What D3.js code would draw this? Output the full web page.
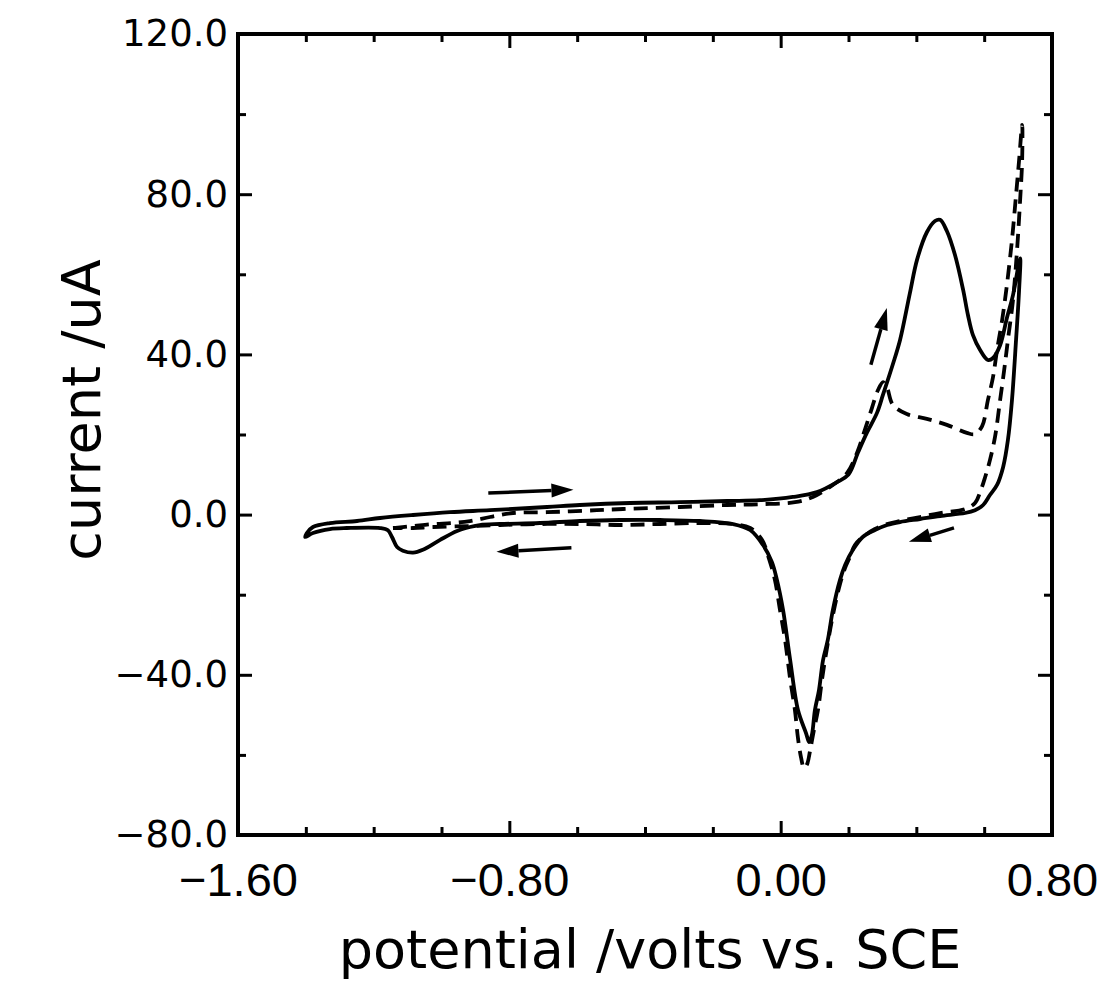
<!DOCTYPE html>
<html lang='en'>
<head>
<meta charset='utf-8'>
<script src='https://cdnjs.cloudflare.com/ajax/libs/d3/7.8.5/d3.min.js'></script>
<title>Cyclic voltammogram</title>
<style>
body {
   margin:0;
   background:white;
   overflow:hidden;
}
.tick text {
   fill:black;
}
</style>
</head>
<body>
<script>
// solid scan: [potential V, current uA], forward then reverse
var solidForward = [
   [-1.397, -4.6], [-1.379, -3.1], [-1.329, -2.1], [-1.249, -1.6], [-1.181, -0.85],
   [-1.084, -0.1], [-0.975, 0.6], [-0.857, 1.1], [-0.689, 1.9], [-0.592, 2.4],
   [-0.444, 2.9], [-0.297, 3.1], [-0.158, 3.4], [-0.061, 3.6], [0.036, 4.4],
   [0.107, 5.6], [0.166, 8.1], [0.200, 10.0], [0.228, 15.5], [0.254, 20.4],
   [0.284, 25.4], [0.302, 30.0], [0.331, 37.6], [0.352, 43.6], [0.381, 55.3],
   [0.402, 63.6], [0.431, 70.5], [0.455, 73.3], [0.470, 73.6], [0.490, 70.8],
   [0.514, 64.8], [0.538, 56.1], [0.552, 49.9], [0.567, 44.8], [0.588, 41.1],
   [0.611, 38.6], [0.626, 39.1], [0.647, 42.3], [0.667, 49.1], [0.685, 54.8],
   [0.706, 64.0]
];
var solidReverse = [
   [0.703, 56.1], [0.694, 43.6], [0.682, 28.6], [0.670, 18.6], [0.656, 11.9],
   [0.638, 7.4], [0.617, 4.9], [0.597, 2.4], [0.573, 1.1], [0.544, 0.4],
   [0.470, -0.35], [0.411, -1.1], [0.352, -1.85], [0.314, -2.6], [0.278, -3.85],
   [0.242, -5.6], [0.213, -8.8], [0.190, -12.6], [0.175, -16.3], [0.154, -23.8],
   [0.139, -31.3], [0.125, -36.3], [0.113, -43.8], [0.101, -48.8], [0.092, -55.0],
   [0.084, -56.8], [0.075, -54.6], [0.051, -48.8], [0.028, -36.3], [0.007, -23.8],
   [-0.011, -16.3], [-0.026, -11.8], [-0.052, -7.6], [-0.090, -3.85], [-0.141, -2.35],
   [-0.238, -1.6], [-0.356, -1.35], [-0.474, -1.35], [-0.592, -1.6], [-0.710, -2.1],
   [-0.828, -2.35], [-0.887, -2.6], [-0.916, -3.1], [-0.954, -4.1], [-1.004, -6.3],
   [-1.055, -8.8], [-1.084, -9.5], [-1.114, -9.0], [-1.131, -8.1], [-1.146, -5.6],
   [-1.158, -3.9], [-1.181, -3.35], [-1.279, -3.35], [-1.329, -3.6], [-1.379, -4.6],
   [-1.402, -5.6]
];
// dashed scan
var dashForward = [
   [-1.143, -3.35], [-1.084, -2.85], [-1.025, -2.35], [-0.966, -2.1], [-0.916, -1.6],
   [-0.857, -0.6], [-0.789, 0.4], [-0.689, 0.6], [-0.542, 1.1], [-0.465, 1.4],
   [-0.297, 1.9], [-0.158, 2.4], [-0.061, 2.6], [0.042, 3.1], [0.095, 4.4],
   [0.154, 7.4], [0.196, 10.4], [0.225, 15.4], [0.248, 21.1], [0.269, 26.6],
   [0.287, 31.1], [0.302, 33.1], [0.314, 31.6], [0.331, 27.4], [0.372, 25.1],
   [0.431, 23.9], [0.490, 22.4], [0.549, 20.4], [0.573, 20.1], [0.594, 22.1],
   [0.611, 28.6], [0.626, 34.3], [0.638, 41.1], [0.653, 48.6], [0.667, 57.3],
   [0.682, 68.6], [0.694, 79.8], [0.703, 88.5], [0.712, 97.3]
];
var dashReverse = [
   [0.712, 88.5], [0.706, 78.5], [0.697, 66.1], [0.685, 53.6], [0.670, 43.6],
   [0.659, 36.1], [0.647, 28.6], [0.632, 19.4], [0.617, 13.6], [0.603, 9.4],
   [0.588, 5.6], [0.573, 2.9], [0.544, 1.4], [0.470, 0.4], [0.411, -0.6],
   [0.352, -1.6], [0.314, -2.35], [0.278, -3.6], [0.242, -5.6], [0.219, -7.6],
   [0.204, -10.6], [0.190, -13.3], [0.175, -17.3], [0.154, -25.1], [0.136, -33.6],
   [0.122, -41.1], [0.110, -48.8], [0.098, -53.8], [0.087, -58.8], [0.078, -62.3],
   [0.069, -63.3], [0.060, -60.6], [0.051, -55.8], [0.042, -48.8], [0.028, -41.1],
   [0.013, -31.3], [-0.002, -23.8], [-0.017, -16.3], [-0.034, -11.1], [-0.055, -6.3],
   [-0.090, -3.35], [-0.141, -2.35], [-0.238, -2.1], [-0.356, -2.35], [-0.474, -2.6],
   [-0.592, -2.35], [-0.710, -2.35], [-0.828, -2.6], [-0.916, -2.85], [-1.025, -3.1],
   [-1.084, -3.35], [-1.143, -3.35]
];
// scan direction arrows: tail -> head
var arrows = [
   {x1: 0.266, y1: 37.4, x2: 0.313, y2: 51.6},
   {x1: -0.862, y1: 5.4, x2: -0.611, y2: 6.2},
   {x1: -0.617, y1: -8.3, x2: -0.838, y2: -9.3},
   {x1: 0.511, y1: -3.3, x2: 0.378, y2: -6.8}
];
var xMajor = [-1.6, -0.8, 0, 0.8];
var xMinor = [-1.4, -1.2, -1.0, -0.6, -0.4, -0.2, 0.2, 0.4, 0.6];
var yMajor = [-80, -40, 0, 40, 80, 120];
var yMinor = [-60, -20, 20, 60, 100];

var W = 1097, H = 988;
var mL = 238, mR = 1052, mT = 34, mB = 835;

var svg = d3.select('body').append('svg')
            .attr('width', W).attr('height', H);

var x = d3.scaleLinear().domain([-1.6, 0.8]).range([mL, mR]);
var y = d3.scaleLinear().domain([-80, 120]).range([mB, mT]);

function axisStyle(g) {
   g.select('.domain').remove();
   g.selectAll('.tick line').attr('stroke', 'black').attr('stroke-width', 3);
}
// minor ticks, all four sides, pointing inward
svg.append('g').attr('transform', 'translate(0,' + mB + ')')
   .call(d3.axisBottom(x).tickValues(xMinor).tickSize(-8).tickFormat('')).call(axisStyle);
svg.append('g').attr('transform', 'translate(0,' + mT + ')')
   .call(d3.axisTop(x).tickValues(xMinor).tickSize(-8).tickFormat('')).call(axisStyle);
svg.append('g').attr('transform', 'translate(' + mL + ',0)')
   .call(d3.axisLeft(y).tickValues(yMinor).tickSize(-8).tickFormat('')).call(axisStyle);
svg.append('g').attr('transform', 'translate(' + mR + ',0)')
   .call(d3.axisRight(y).tickValues(yMinor).tickSize(-8).tickFormat('')).call(axisStyle);
// major ticks
var xb = svg.append('g').attr('transform', 'translate(0,' + mB + ')')
   .call(d3.axisBottom(x).tickValues(xMajor).tickSize(-14).tickPadding(28).tickFormat(d3.format('.2f')))
   .call(axisStyle);
xb.selectAll('text').style('font-family', 'Liberation Sans').style('font-size', '47px');
svg.append('g').attr('transform', 'translate(0,' + mT + ')')
   .call(d3.axisTop(x).tickValues(xMajor).tickSize(-14).tickFormat('')).call(axisStyle);
var yl = svg.append('g').attr('transform', 'translate(' + mL + ',0)')
   .call(d3.axisLeft(y).tickValues(yMajor).tickSize(-14).tickPadding(10).tickFormat(d3.format('.1f')))
   .call(axisStyle);
yl.selectAll('text').style('font-family', 'DejaVu Sans').style('font-size', '37px');
svg.append('g').attr('transform', 'translate(' + mR + ',0)')
   .call(d3.axisRight(y).tickValues(yMajor).tickSize(-14).tickFormat('')).call(axisStyle);

svg.append('rect')
   .attr('x', mL).attr('y', mT).attr('width', mR - mL).attr('height', mB - mT)
   .style('fill', 'none').style('stroke', 'black').style('stroke-width', 4);

var line = d3.line()
   .x(function(d){return x(d[0]);})
   .y(function(d){return y(d[1]);})
   .curve(d3.curveCatmullRom.alpha(0.5));

svg.append('path')
   .datum(solidForward.concat(solidReverse, [solidForward[0]]))
   .attr('d', line)
   .style('fill', 'none').style('stroke', 'black').style('stroke-width', 3.8)
   .style('stroke-linejoin', 'round');
svg.append('path')
   .datum(dashForward.concat(dashReverse))
   .attr('d', line)
   .style('fill', 'none').style('stroke', 'black').style('stroke-width', 3.8)
   .style('stroke-dasharray', '14,8');

// arrows
arrows.forEach(function(a) {
   var px1 = x(a.x1), py1 = y(a.y1), px2 = x(a.x2), py2 = y(a.y2);
   var ang = Math.atan2(py2 - py1, px2 - px1);
   var hl = 22, hw = 7;
   var bx = px2 - hl * Math.cos(ang), by = py2 - hl * Math.sin(ang);
   svg.append('line')
      .attr('x1', px1).attr('y1', py1).attr('x2', bx).attr('y2', by)
      .style('stroke', 'black').style('stroke-width', 3.5);
   svg.append('path')
      .attr('d', 'M' + px2 + ',' + py2 +
                 'L' + (bx + hw * Math.sin(ang)) + ',' + (by - hw * Math.cos(ang)) +
                 'L' + (bx - hw * Math.sin(ang)) + ',' + (by + hw * Math.cos(ang)) + 'Z')
      .style('fill', 'black');
});

// axis titles
svg.append('text')
   .attr('x', (mL + mR) / 2 + 5).attr('y', 968)
   .attr('text-anchor', 'middle')
   .style('font-family', 'DejaVu Sans').style('font-size', '54px')
   .text('potential /volts vs. SCE');
svg.append('text')
   .attr('transform', 'translate(100,' + 410 + ') rotate(-90)')
   .attr('text-anchor', 'middle')
   .style('font-family', 'DejaVu Sans').style('font-size', '54px')
   .text('current /uA');
</script>
</body>
</html>
